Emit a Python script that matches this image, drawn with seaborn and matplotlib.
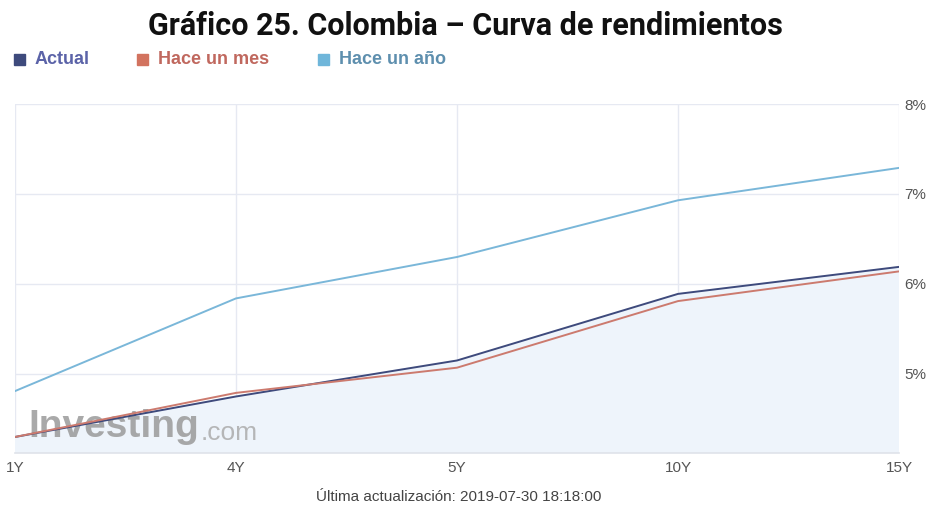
import matplotlib
matplotlib.use("Agg")
import matplotlib.pyplot as plt
import seaborn as sns
import pandas as pd
from matplotlib.patches import Rectangle

# Yield curve data (percent)
tenors = ["1Y", "4Y", "5Y", "10Y", "15Y"]
actual = [4.30, 4.75, 5.15, 5.89, 6.19]
hace_un_mes = [4.30, 4.79, 5.07, 5.81, 6.14]
hace_un_ano = [4.81, 5.84, 6.30, 6.93, 7.29]
series_names = ["Actual", "Hace un mes", "Hace un año"]
y_ticks = [5, 6, 7, 8]

line_colors = ["#3e4a7c", "#cc7a6e", "#7ab7d9"]
text_colors = ["#5b63a8", "#c0685e", "#5e8fae"]
square_colors = ["#3e4a7c", "#d2735f", "#6fb6da"]

sns.set_theme(style="white")
plt.rcParams["font.family"] = ["Liberation Sans", "DejaVu Sans"]

rows = []
for name, vals in zip(series_names, [actual, hace_un_mes, hace_un_ano]):
    for i, (t, v) in enumerate(zip(tenors, vals)):
        rows.append({"pos": i, "tenor": t, "rate": v, "serie": name})
df = pd.DataFrame(rows)

fig = plt.figure(figsize=(9.28, 5.08), dpi=100)
W, H = 928, 508
ax = fig.add_axes([15 / W, (H - 453) / H, (899 - 15) / W, (453 - 104) / H])

# shaded area under the current curve
ax.fill_between(range(len(tenors)), actual, 0, color="#eef4fb", zorder=1)

sns.lineplot(data=df, x="pos", y="rate", hue="serie", hue_order=series_names,
             palette=line_colors, linewidth=1.4, ax=ax, legend=False, zorder=3)

ax.set_xlim(0, len(tenors) - 1)
ax.set_ylim(4.122, 8.0)
ax.set_xticks(range(len(tenors)))
ax.set_xticklabels(tenors)
ax.set_yticks(y_ticks)
ax.set_yticklabels([f"{v}%" for v in y_ticks])
ax.yaxis.tick_right()
ax.tick_params(axis="both", length=0, labelsize=11, colors="#555555", pad=4)
ax.tick_params(axis="x", pad=6)
ax.set_xlabel("")
ax.set_ylabel("")
ax.grid(True, color="#e6e9f2", linewidth=1)
for side in ["top", "right", "left"]:
    ax.spines[side].set_visible(False)
ax.spines["bottom"].set_color("#dfe3ea")
ax.spines["bottom"].set_linewidth(1.2)

# watermark
wm = ax.text(0.0147, 0.046, "Investing", transform=ax.transAxes, fontsize=28,
             fontweight="bold", color="#9a9a9a", alpha=0.85, zorder=2,
             va="baseline")
ax.annotate(".com", xy=(1, 0), xycoords=wm, xytext=(1, 0),
            textcoords="offset points", va="bottom", fontsize=19,
            color="#ababab", alpha=0.85, zorder=2)

# title
fig.text(465 / W, 1 - 26 / H, "Gráfico 25. Colombia – Curva de rendimientos",
         ha="center", va="center", fontsize=22, fontweight="bold", color="#111111",
         family=["Roboto", "DejaVu Sans"])

# legend
legend_x = [14, 137, 318]
for x0, name, sc, tc in zip(legend_x, series_names, square_colors, text_colors):
    fig.patches.append(Rectangle((x0 / W, 1 - 65 / H), 11 / W, 11 / H,
                                 transform=fig.transFigure, color=sc))
    fig.text((x0 + 21) / W, 1 - 59 / H, name, ha="left", va="center",
             fontsize=13, fontweight="bold", color=tc)

# footer
fig.text(459 / W, 1 - 497 / H, "Última actualización: 2019-07-30 18:18:00",
         ha="center", va="center", fontsize=11, color="#444444")

fig.savefig("out.png", dpi=100, facecolor="white")
